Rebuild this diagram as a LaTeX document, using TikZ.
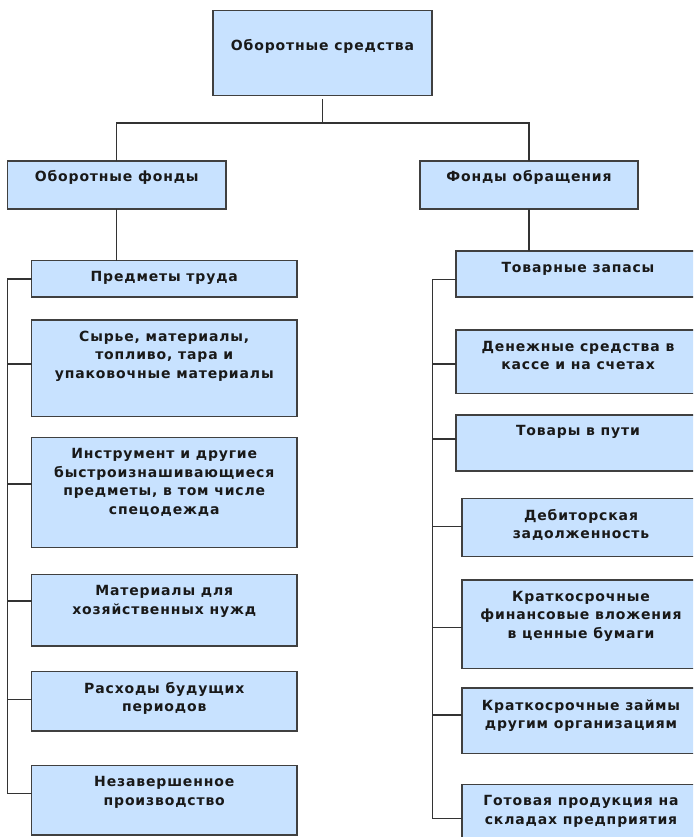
\documentclass[tikz,border=0pt]{standalone}
\usepackage{fontspec}
\setmainfont[LetterSpace=6]{DejaVu Sans}
\usetikzlibrary{calc}
\definecolor{boxfill}{RGB}{200,226,255}
\definecolor{boxline}{RGB}{64,64,64}
\definecolor{wirec}{RGB}{51,51,51}
\newcommand\mkbox[5]{\node[box, minimum width={#4-#2}, minimum height={#5-#3}] (#1) at ({(#2+#4)/2},{(#3+#5)/2}) {};}
\begin{document}
\begin{tikzpicture}[x=1pt,y=-1pt,
  box/.style={draw=boxline, line width=1.6pt, fill=boxfill, inner sep=0pt, outer sep=0pt},
  lbl/.style={anchor=north, inner sep=0pt, align=center, font=\fontsize{14}{18.5}\selectfont\bfseries, text=black!90},
  wire/.style={draw=wirec, line width=1.2pt}]
\useasboundingbox (0,0) rectangle (693,837);
\clip (0,0) rectangle (693,837);
% boxes
\mkbox{top}{213}{10.5}{432}{95.5}
\mkbox{of}{7.5}{161}{226}{209}
\mkbox{fo}{420}{161}{638}{209}
\mkbox{L1}{31.5}{260.5}{297}{297}
\mkbox{L2}{31.5}{320}{297}{416.5}
\mkbox{L3}{31.5}{437.5}{297}{547.5}
\mkbox{L4}{31.5}{574.5}{297}{646}
\mkbox{L5}{31.5}{671.5}{297}{731}
\mkbox{L6}{31.5}{765.5}{297}{835}
\mkbox{R1}{456}{251}{700}{297}
\mkbox{R2}{456}{330}{700}{393.5}
\mkbox{R3}{456}{415}{700}{471}
\mkbox{R4}{462}{498.5}{700}{556.5}
\mkbox{R5}{462}{580}{700}{668.5}
\mkbox{R6}{462}{688}{700}{753.5}
\mkbox{R7}{462}{784.5}{700}{850}
% labels
\node[lbl] (topT) at ($(top.north)+(0,28.6)$) {Оборотные средства};
\node[lbl] (ofT) at ($(of.north)+(0,9.6)$) {Оборотные фонды};
\node[lbl] (foT) at ($(fo.north)+(0,9.6)$) {Фонды обращения};
\node[lbl] (L1T) at ($(L1.north)+(0,10.6)$) {Предметы труда};
\node[lbl] (L2T) at ($(L2.north)+(0,10.6)$) {Сырье, материалы,\\топливо, тара и\\упаковочные материалы};
\node[lbl] (L3T) at ($(L3.north)+(0,10.6)$) {Инструмент и другие\\быстроизнашивающиеся\\предметы, в том числе\\спецодежда};
\node[lbl] (L4T) at ($(L4.north)+(0,10.6)$) {Материалы для\\хозяйственных нужд};
\node[lbl] (L5T) at ($(L5.north)+(0,10.6)$) {Расходы будущих\\периодов};
\node[lbl] (L6T) at ($(L6.north)+(0,10.6)$) {Незавершенное\\производство};
\node[lbl] (R1T) at ($(R1.north)+(0,11.4)$) {Товарные запасы};
\node[lbl] (R2T) at ($(R2.north)+(0,10.6)$) {Денежные средства в\\кассе и на счетах};
\node[lbl] (R3T) at ($(R3.north)+(0,10.0)$) {Товары в пути};
\node[lbl] (R4T) at ($(R4.north)+(0,10.6)$) {Дебиторская\\задолженность};
\node[lbl] (R5T) at ($(R5.north)+(0,10.6)$) {Краткосрочные\\финансовые вложения\\в ценные бумаги};
\node[lbl] (R6T) at ($(R6.north)+(0,11.2)$) {Краткосрочные займы\\другим организациям};
\node[lbl] (R7T) at ($(R7.north)+(0,10.6)$) {Готовая продукция на\\складах предприятия};
% top tree
\coordinate (bus) at (322,123);
\coordinate (spL) at (7.3,0);
\coordinate (spR) at (432.3,0);
\draw[wire] ($(top.south)+(0,3.5)$) -- (top.south |- bus);
\draw[wire] (of.north) |- (bus) -| (fo.north);
\draw[wire] (of.south) -- (of.south |- L1.north);
\draw[wire] (fo.south) -- (fo.south |- R1.north);
% left branch
\coordinate (cl1) at ($(L1.north west)+(0,18.5)$);
\coordinate (cl2) at ($(L2.north west)+(0,44)$);
\coordinate (cl3) at ($(L3.north west)+(0,46.5)$);
\coordinate (cl4) at ($(L4.north west)+(0,26.5)$);
\coordinate (cl5) at ($(L5.north west)+(0,28)$);
\coordinate (cl6) at ($(L6.north west)+(0,28)$);
\draw[wire] (cl1) -- (cl1 -| spL) -- (cl6 -| spL) -- (cl6);
\foreach \c in {cl2,cl3,cl4,cl5} \draw[wire] (\c) -- (\c -| spL);
% right branch
\coordinate (cr1) at ($(R1.north west)+(0,28.3)$);
\coordinate (cr2) at ($(R2.north west)+(0,34)$);
\coordinate (cr3) at ($(R3.north west)+(0,24)$);
\coordinate (cr4) at ($(R4.north west)+(0,28.2)$);
\coordinate (cr5) at ($(R5.north west)+(0,47.7)$);
\coordinate (cr6) at ($(R6.north west)+(0,27)$);
\coordinate (cr7) at ($(R7.north west)+(0,33.8)$);
\draw[wire] (cr1) -- (cr1 -| spR) -- (cr7 -| spR) -- (cr7);
\foreach \c in {cr2,cr3,cr4,cr5,cr6} \draw[wire] (\c) -- (\c -| spR);
\end{tikzpicture}
\end{document}
